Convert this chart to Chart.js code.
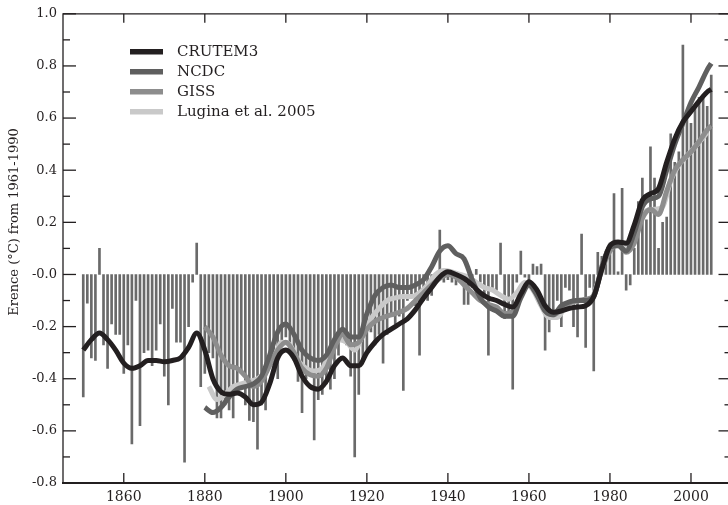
<!DOCTYPE html>
<html>
<head>
<meta charset="utf-8">
<script src="https://cdn.jsdelivr.net/npm/chart.js@4.4.0/dist/chart.umd.min.js"></script>
<style>
    html, body { margin: 0; padding: 0; background: #fff; overflow: hidden; }
    #wrap { width: 740px; height: 505px; }
</style>
</head>
<body>
<div id="wrap"><canvas id="chart" width="740" height="505"></canvas></div>
<script>
// annual land anomalies (bars), one value per year from 1850
const FIRST_YEAR = 1850;
const annualAnomalies = [
    -0.47, -0.11, -0.32, -0.33, 0.10, -0.27, -0.36, -0.19, -0.23, -0.23,   // 1850s
    -0.38, -0.27, -0.65, -0.10, -0.58, -0.30, -0.29, -0.35, -0.29, -0.19,  // 1860s
    -0.39, -0.50, -0.13, -0.26, -0.26, -0.72, -0.20, -0.03, 0.12, -0.43,   // 1870s
    -0.38, -0.30, -0.32, -0.55, -0.55, -0.50, -0.52, -0.55, -0.45, -0.38,  // 1880s
    -0.50, -0.56, -0.565, -0.67, -0.50, -0.52, -0.35, -0.33, -0.40, -0.25, // 1890s
    -0.24, -0.28, -0.33, -0.41, -0.53, -0.40, -0.38, -0.635, -0.48, -0.46, // 1900s
    -0.42, -0.44, -0.40, -0.31, -0.22, -0.27, -0.39, -0.70, -0.46, -0.33,  // 1910s
    -0.29, -0.22, -0.27, -0.23, -0.34, -0.23, -0.15, -0.19, -0.16, -0.445, // 1920s
    -0.10, -0.08, -0.12, -0.31, -0.10, -0.10, -0.08, -0.02, 0.17, -0.03,   // 1930s
    -0.02, -0.03, -0.04, -0.02, -0.115, -0.115, -0.05, 0.02, -0.03, -0.08, // 1940s
    -0.31, -0.05, -0.06, 0.12, -0.17, -0.14, -0.44, -0.03, 0.09, -0.01,    // 1950s
    -0.02, 0.04, 0.03, 0.04, -0.29, -0.22, -0.14, -0.10, -0.20, -0.05,     // 1960s
    -0.06, -0.20, -0.24, 0.155, -0.28, -0.05, -0.37, 0.085, 0.07, 0.09,    // 1970s
    0.12, 0.31, 0.01, 0.33, -0.06, -0.04, 0.10, 0.28, 0.37, 0.21,          // 1980s
    0.49, 0.37, 0.10, 0.20, 0.22, 0.54, 0.43, 0.47, 0.88, 0.60,            // 1990s
    0.58, 0.645, 0.68, 0.69, 0.645, 0.765                                  // 2000s
];
const annualYears = annualAnomalies.map((_, i) => FIRST_YEAR + i);

// smoothed series
const crutemYears = [1850, 1852, 1854, 1856, 1858, 1860, 1862, 1864, 1866, 1868, 1870, 1872, 1874, 1876, 1878,
    1880, 1882, 1884, 1886, 1888, 1890, 1892, 1894, 1896, 1898, 1900, 1902, 1904, 1906, 1908,
    1910, 1912, 1914, 1916, 1918, 1920, 1922, 1924, 1926, 1928, 1930, 1932, 1934, 1936, 1938,
    1940, 1942, 1944, 1946, 1948, 1950, 1952, 1954, 1956, 1958, 1960, 1962, 1964, 1966, 1968,
    1970, 1972, 1974, 1976, 1978, 1980, 1982, 1984, 1986, 1988, 1990, 1992, 1994, 1996, 1998,
    2000, 2002, 2004, 2005];
const crutemValues = [-0.29, -0.25, -0.225, -0.25, -0.29, -0.34, -0.36, -0.35, -0.33, -0.33, -0.335, -0.33, -0.32, -0.28, -0.225,
    -0.29, -0.40, -0.45, -0.46, -0.455, -0.47, -0.50, -0.49, -0.42, -0.32, -0.29, -0.32, -0.39, -0.43, -0.44,
    -0.41, -0.35, -0.32, -0.35, -0.35, -0.30, -0.26, -0.23, -0.21, -0.19, -0.17, -0.135, -0.09, -0.05, -0.01,
    0.01, 0.0, -0.015, -0.04, -0.07, -0.09, -0.10, -0.115, -0.125, -0.075, -0.028, -0.06, -0.12, -0.145, -0.14,
    -0.13, -0.125, -0.12, -0.085, 0.02, 0.11, 0.125, 0.12, 0.19, 0.285, 0.31, 0.33, 0.43, 0.52, 0.585,
    0.625, 0.665, 0.70, 0.71];

const ncdcYears = [1880, 1882, 1884, 1886, 1888, 1890, 1892, 1894, 1896, 1898, 1900, 1902, 1904, 1906, 1908,
    1910, 1912, 1914, 1916, 1918, 1920, 1922, 1924, 1926, 1928, 1930, 1932, 1934, 1936, 1938,
    1940, 1942, 1944, 1946, 1948, 1950, 1952, 1954, 1956, 1958, 1960, 1962, 1964, 1966, 1968,
    1970, 1972, 1974, 1976, 1978, 1980, 1982, 1984, 1986, 1988, 1990, 1992, 1994, 1996, 1998,
    2000, 2002, 2004, 2005];
const ncdcValues = [-0.51, -0.53, -0.51, -0.47, -0.44, -0.43, -0.42, -0.39, -0.31, -0.22, -0.19, -0.23, -0.29, -0.32, -0.33,
    -0.31, -0.25, -0.21, -0.24, -0.24, -0.15, -0.08, -0.05, -0.04, -0.05, -0.05, -0.04, -0.02, 0.03, 0.09,
    0.11, 0.08, 0.06, -0.02, -0.09, -0.125, -0.14, -0.16, -0.16, -0.09, -0.04, -0.08, -0.14, -0.155, -0.12,
    -0.105, -0.10, -0.10, -0.085, 0.03, 0.105, 0.11, 0.09, 0.16, 0.26, 0.29, 0.30, 0.40, 0.50, 0.58,
    0.66, 0.72, 0.785, 0.81];

const gissYears = ncdcYears;
const gissValues = [-0.20, -0.24, -0.31, -0.35, -0.36, -0.39, -0.43, -0.41, -0.35, -0.29, -0.26, -0.30, -0.36, -0.385, -0.39,
    -0.36, -0.28, -0.23, -0.27, -0.26, -0.21, -0.18, -0.165, -0.155, -0.145, -0.13, -0.10, -0.07, -0.04, -0.015,
    0.0, -0.01, -0.04, -0.07, -0.10, -0.115, -0.125, -0.15, -0.14, -0.08, -0.035, -0.075, -0.14, -0.155, -0.135,
    -0.11, -0.10, -0.095, -0.08, 0.02, 0.09, 0.115, 0.085, 0.12, 0.215, 0.25, 0.23, 0.32, 0.40, 0.44,
    0.47, 0.51, 0.555, 0.57];

const luginaYears = [1881, 1883, 1885, 1887, 1889, 1891, 1893, 1895, 1897, 1899, 1901, 1903, 1905, 1907, 1909,
    1911, 1913, 1915, 1917, 1919, 1921, 1923, 1925, 1927, 1929, 1931, 1933, 1935, 1937, 1939,
    1941, 1943, 1945, 1947, 1949, 1951, 1953, 1955, 1957, 1959, 1961, 1963, 1965, 1967, 1969,
    1971, 1973, 1975, 1977, 1979, 1981, 1983, 1985, 1987, 1989, 1991, 1993, 1995, 1997, 1999,
    2001, 2003, 2004];
const luginaValues = [-0.43, -0.48, -0.46, -0.43, -0.42, -0.41, -0.40, -0.37, -0.32, -0.26, -0.27, -0.33, -0.36, -0.37, -0.36,
    -0.29, -0.25, -0.26, -0.29, -0.23, -0.17, -0.13, -0.10, -0.09, -0.085, -0.085, -0.07, -0.04, 0.0, 0.015,
    0.01, 0.0, -0.01, -0.03, -0.05, -0.06, -0.08, -0.095, -0.07, -0.03, -0.06, -0.12, -0.165, -0.165, -0.125,
    -0.105, -0.10, -0.10, -0.03, 0.075, 0.12, 0.11, 0.11, 0.19, 0.245, 0.25, 0.26, 0.36, 0.42, 0.455,
    0.49, 0.525, 0.545];

const seriesLabels = ["CRUTEM3", "NCDC", "GISS", "Lugina et al. 2005"];
const seriesColors = ["#231f20", "#5f5f5f", "#8d8d8d", "#c9c9c9"];
const barColor = "#6a6a6a";

const xTickYears = [1860, 1880, 1900, 1920, 1940, 1960, 1980, 2000];
const yTickValues = [-0.8, -0.6, -0.4, -0.2, 0, 0.2, 0.4, 0.6, 0.8, 1.0];
const yMinorTickValues = [-0.7, -0.5, -0.3, -0.1, 0.1, 0.3, 0.5, 0.7, 0.9];
const yAxisTitle = "Erence (°C) from 1961-1990";

const FONT = "'DejaVu Serif', 'Liberation Serif', serif";
const INK = "#231f20";

function toPoints(xs, ys) {
    return xs.map((x, i) => ({ x, y: ys[i] }));
}

function lineDataset(index, xs, ys) {
    return {
        type: "line",
        label: seriesLabels[index],
        data: toPoints(xs, ys),
        borderColor: seriesColors[index],
        borderWidth: 5,
        pointRadius: 0,
        cubicInterpolationMode: "monotone",
        fill: false,
        order: index
    };
}

// box lines and inward ticks on all four sides
const frameTicks = {
    id: "frameTicks",
    afterDatasetsDraw(chart) {
        const { ctx, chartArea, scales } = chart;
        const { left, right, top, bottom } = chartArea;
        const seg = (x1, y1, x2, y2) => {
            ctx.beginPath();
            ctx.moveTo(x1, y1);
            ctx.lineTo(x2, y2);
            ctx.stroke();
        };
        ctx.save();
        ctx.strokeStyle = INK;
        ctx.lineWidth = 1.3;
        ctx.beginPath();
        ctx.moveTo(left, bottom);
        ctx.lineTo(left, top);
        ctx.lineTo(right, top);
        ctx.lineTo(right, bottom);
        ctx.stroke();
        ctx.lineWidth = 2;
        seg(left - 1, bottom, right, bottom);

        ctx.lineWidth = 1.3;
        yTickValues.forEach((v) => {
            const py = scales.y.getPixelForValue(v);
            seg(left, py, left + 13, py);
            seg(right - 13, py, right, py);
        });
        yMinorTickValues.forEach((v) => {
            const py = scales.y.getPixelForValue(v);
            seg(left, py, left + 7, py);
            seg(right - 7, py, right, py);
        });
        xTickYears.forEach((v) => {
            const px = scales.x.getPixelForValue(v);
            seg(px, bottom, px, bottom - 10);
            seg(px, top, px, top + 9);
        });
        ctx.restore();
    }
};

const legendAndTitle = {
    id: "legendAndTitle",
    afterDraw(chart) {
        const { ctx, chartArea } = chart;
        ctx.save();
        ctx.font = `15px ${FONT}`;
        ctx.textBaseline = "middle";
        ctx.textAlign = "left";
        seriesLabels.forEach((label, i) => {
            const yy = chartArea.top + 38 + i * 20;
            const x0 = chartArea.left + 67;
            ctx.strokeStyle = seriesColors[i];
            ctx.lineWidth = 5.5;
            ctx.beginPath();
            ctx.moveTo(x0, yy);
            ctx.lineTo(x0 + 33, yy);
            ctx.stroke();
            ctx.fillStyle = INK;
            ctx.fillText(label, x0 + 47, yy);
        });

        ctx.translate(15, 222);
        ctx.rotate(-Math.PI / 2);
        ctx.font = `13px ${FONT}`;
        ctx.textAlign = "center";
        ctx.fillStyle = INK;
        ctx.fillText(yAxisTitle, 0, 0);
        ctx.restore();
    }
};

const chartCanvas = document.getElementById("chart");
new Chart(chartCanvas.getContext("2d"), {
    type: "line",
    data: {
        datasets: [
            lineDataset(0, crutemYears, crutemValues),
            lineDataset(1, ncdcYears, ncdcValues),
            lineDataset(2, gissYears, gissValues),
            lineDataset(3, luginaYears, luginaValues),
            {
                type: "bar",
                label: "annual",
                data: toPoints(annualYears, annualAnomalies),
                backgroundColor: barColor,
                borderWidth: 0,
                barThickness: 2,
                order: 10
            }
        ]
    },
    options: {
        responsive: false,
        animation: false,
        events: [],
        layout: { padding: { top: 10, right: 8.5, left: 0, bottom: 0 } },
        plugins: {
            legend: { display: false },
            tooltip: { enabled: false }
        },
        scales: {
            x: {
                type: "linear",
                min: 1845,
                max: 2010,
                offset: false,
                grid: { display: false, drawTicks: false, offset: false },
                border: { display: false },
                afterBuildTicks(scale) {
                    scale.ticks = xTickYears.map((v) => ({ value: v }));
                },
                afterFit(scale) {
                    scale.height = 22;
                },
                ticks: {
                    autoSkip: false,
                    maxRotation: 0,
                    padding: 6,
                    color: INK,
                    font: { family: FONT, size: 14 },
                    callback: (v) => String(v)
                }
            },
            y: {
                type: "linear",
                min: -0.8,
                max: 1.0,
                grid: { display: false, drawTicks: false },
                border: { display: false },
                afterBuildTicks(scale) {
                    scale.ticks = yTickValues.map((v) => ({ value: v }));
                },
                afterFit(scale) {
                    scale.width = 63;
                },
                ticks: {
                    autoSkip: false,
                    padding: 6,
                    color: INK,
                    font: { family: FONT, size: 13 },
                    callback: (v) => (Math.abs(v) < 1e-9 ? "-0.0" : v.toFixed(1))
                }
            }
        }
    },
    plugins: [frameTicks, legendAndTitle]
});
</script>
</body>
</html>
